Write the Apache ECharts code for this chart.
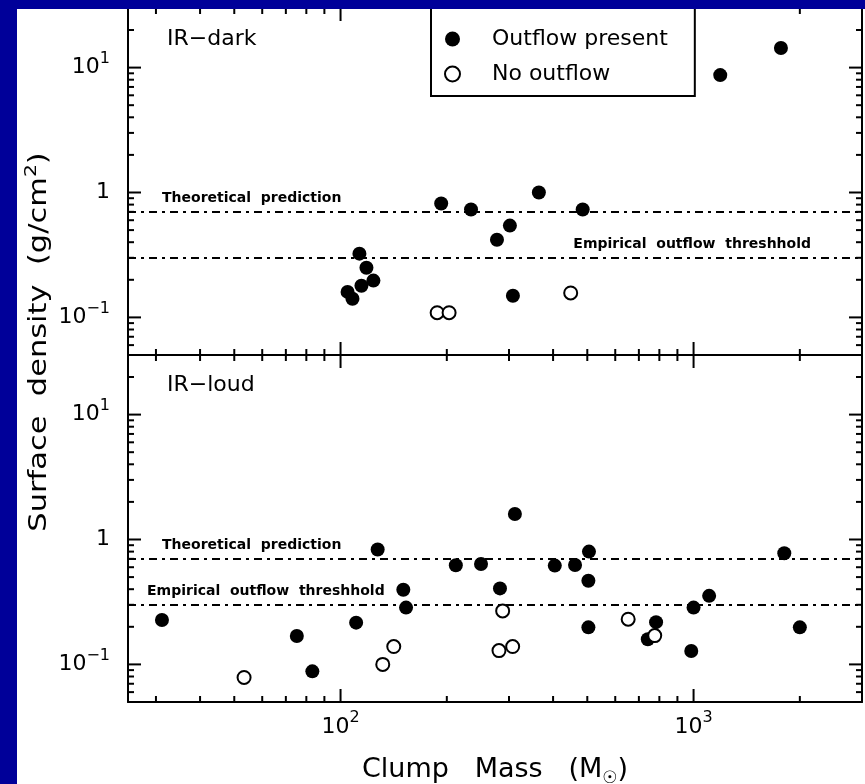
<!DOCTYPE html>
<html>
<head>
<meta charset="utf-8">
<script src="https://cdn.jsdelivr.net/npm/echarts@6/dist/echarts.min.js"></script>
<style>
  html, body { margin: 0; padding: 0; background: #000099; }
  #chart { position: absolute; left: 17px; top: 9px; width: 848px; height: 775px; background: #fff; }
</style>
</head>
<body>
<div id="chart"></div>
<script>
// IR-dark clumps
var darkOutX = [104.7, 108.1, 113.1, 118.4, 114.6, 123.9, 192.8, 234.2, 364.6, 485.2, 301.8, 277.4, 307.8, 1190, 1768];
var darkOutY = [0.160, 0.141, 0.324, 0.250, 0.179, 0.197, 0.816, 0.730, 1.00, 0.730, 0.543, 0.419, 0.149, 8.71, 14.35];
var darkNoX = [187.8, 203, 448.7];
var darkNoY = [0.109, 0.109, 0.157];
// IR-loud clumps
var loudOutX = [31.2, 75.2, 83.2, 110.7, 127.4, 150.6, 153.3, 212.1, 250, 311.8, 282.9, 404.5, 461.6, 505.5, 503.6, 503.6, 741.9, 783.1, 985.1, 1000, 1107, 1807, 2000];
var loudOutY = [0.227, 0.169, 0.088, 0.216, 0.831, 0.396, 0.285, 0.622, 0.637, 1.60, 0.406, 0.618, 0.625, 0.80, 0.468, 0.198, 0.159, 0.218, 0.128, 0.285, 0.354, 0.776, 0.198];
var loudNoX = [53.3, 131.7, 141.5, 287.9, 281.1, 307.3, 652.8, 776.2];
var loudNoY = [0.0786, 0.100, 0.139, 0.268, 0.129, 0.139, 0.230, 0.170];

// threshold lines
var theoryLevel = 0.7;
var empiricalLevel = 0.3;

// axes
var xMin = 25, xMax = 3000;
var yMin = 0.05, yMax = 30;
var xMajorTicks = [100, 1000];
var xMinorTicks = [30, 40, 50, 60, 70, 80, 90, 200, 300, 400, 500, 600, 700, 800, 900, 2000];
var yMajorTicks = [0.1, 1, 10];
var yMinorTicks = [0.06, 0.07, 0.08, 0.09, 0.2, 0.3, 0.4, 0.5, 0.6, 0.7, 0.8, 0.9, 2, 3, 4, 5, 6, 7, 8, 9, 20];
var xLabelValues = [100, 1000];
var xLabelTexts = ['{b|10}{s|2}', '{b|10}{s|3}'];
var yLabelValues = [0.1, 1, 10];
var yLabelTexts = ['{b|10}{s|\u22121}', '{b|1}', '{b|10}{s|1}'];

var FONT = 'DejaVu Sans';

function zip(xs, ys) {
    var out = [];
    for (var i = 0; i < xs.length; i++) out.push([xs[i], ys[i]]);
    return out;
}

function pickLabel(values, texts) {
    return function (v) {
        for (var i = 0; i < values.length; i++) {
            if (Math.abs(Math.log10(v) - Math.log10(values[i])) < 1e-6) return texts[i];
        }
        return '';
    };
}

var supRich = {
    b: { fontSize: 22, fontFamily: FONT, color: '#000' },
    s: { fontSize: 16, fontFamily: FONT, color: '#000', padding: [0, 0, 18, 0] }
};

var lineStyle = { color: '#000', width: 2 };

function xAxisFor(grid, pos, labels) {
    return {
        type: 'log', logBase: 10, gridIndex: grid, position: pos,
        min: xMin, max: xMax,
        axisLine: { show: true, onZero: false, lineStyle: lineStyle },
        axisTick: { show: false },
        splitLine: { show: false },
        axisLabel: labels ? {
            show: true, margin: 8, showMinLabel: false, showMaxLabel: false,
            fontSize: 22, fontFamily: FONT, color: '#000',
            formatter: pickLabel(xLabelValues, xLabelTexts), rich: supRich
        } : { show: false },
        name: labels ? 'Clump   Mass   (M{sub|\u2609})' : '',
        nameLocation: 'middle',
        nameGap: 50,
        nameTextStyle: {
            fontSize: 27, fontFamily: FONT, color: '#000',
            rich: { sub: { fontSize: 17, fontFamily: FONT, color: '#000', padding: [18, 0, 0, 0] } }
        }
    };
}

function yAxisFor(grid, pos, labels) {
    return {
        type: 'log', logBase: 10, gridIndex: grid, position: pos,
        min: yMin, max: yMax,
        axisLine: { show: true, onZero: false, lineStyle: lineStyle },
        axisTick: { show: false },
        splitLine: { show: false },
        axisLabel: labels ? {
            show: true, margin: 18, showMinLabel: false, showMaxLabel: false,
            fontSize: 22, fontFamily: FONT, color: '#000',
            formatter: pickLabel(yLabelValues, yLabelTexts), rich: supRich
        } : { show: false }
    };
}

// tick marks on all four sides, pointing inward
var tickData = [];
xMajorTicks.forEach(function (v) { tickData.push([v, 1, 0, 13]); });
xMinorTicks.forEach(function (v) { tickData.push([v, 1, 0, 6]); });
yMajorTicks.forEach(function (v) { tickData.push([100, v, 1, 13]); });
yMinorTicks.forEach(function (v) { tickData.push([100, v, 1, 6]); });

function renderTick(params, api) {
    var cs = params.coordSys;
    var len = api.value(3);
    var segs = [];
    if (api.value(2) === 0) {
        var px = api.coord([api.value(0), yMin])[0];
        segs.push([px, cs.y + cs.height, px, cs.y + cs.height - len]);
        segs.push([px, cs.y, px, cs.y + len]);
    } else {
        var py = api.coord([xMin, api.value(1)])[1];
        segs.push([cs.x, py, cs.x + len, py]);
        segs.push([cs.x + cs.width, py, cs.x + cs.width - len, py]);
    }
    return {
        type: 'group',
        children: segs.map(function (s) {
            return { type: 'line', shape: { x1: s[0], y1: s[1], x2: s[2], y2: s[3] }, style: { stroke: '#000', lineWidth: 2 } };
        })
    };
}

function tickSeries(grid) {
    return {
        type: 'custom', silent: true, xAxisIndex: grid * 2, yAxisIndex: grid * 2,
        renderItem: renderTick, data: tickData, z: 3
    };
}

var lineLabel = { color: '#000', fontSize: 14, fontWeight: 'bold', fontFamily: FONT };

function thresholds(empPos, empDist) {
    return {
        silent: true, symbol: 'none',
        lineStyle: { color: '#000', width: 2, type: [8, 5, 3, 5], opacity: 1 },
        data: [
            { yAxis: theoryLevel, label: Object.assign({ formatter: 'Theoretical  prediction', position: 'insideStartTop', distance: [34, 6] }, lineLabel) },
            { yAxis: empiricalLevel, label: Object.assign({ formatter: 'Empirical  outflow  threshhold', position: empPos, distance: empDist }, lineLabel) }
        ]
    };
}

var filledStyle = { color: '#000', opacity: 1 };
var openStyle = { color: '#fff', borderColor: '#000', borderWidth: 2, opacity: 1 };

var myChart = echarts.init(document.getElementById('chart'));
var option = {
    animation: false,
    textStyle: { fontFamily: FONT },
    grid: [
        { left: 111, right: 3, top: -1, height: 347, outerBoundsMode: 'none' },
        { left: 111, right: 3, top: 346, height: 347, outerBoundsMode: 'none' }
    ],
    xAxis: [
        xAxisFor(0, 'bottom', false), xAxisFor(0, 'top', false),
        xAxisFor(1, 'bottom', true), xAxisFor(1, 'top', false)
    ],
    yAxis: [
        yAxisFor(0, 'left', true), yAxisFor(0, 'right', false),
        yAxisFor(1, 'left', true), yAxisFor(1, 'right', false)
    ],
    legend: {
        data: ['Outflow present', 'No outflow'],
        orient: 'vertical',
        left: 414, top: -10,
        padding: [29, 27, 11, 13],
        itemWidth: 15, itemHeight: 15, itemGap: 13,
        borderColor: '#000', borderWidth: 2, backgroundColor: '#fff',
        textStyle: { fontSize: 22, fontFamily: FONT, color: '#000', padding: [0, 0, 0, 27] },
        selectedMode: false
    },
    graphic: [
        { type: 'text', x: 150, y: 30, style: { text: 'IR\u2212dark', font: '22px "DejaVu Sans"', fill: '#000', verticalAlign: 'middle' } },
        { type: 'text', x: 150, y: 376, style: { text: 'IR\u2212loud', font: '22px "DejaVu Sans"', fill: '#000', verticalAlign: 'middle' } },
        {
            type: 'text', x: 23, y: 333, rotation: Math.PI / 2, scaleX: 1.27,
            style: {
                text: 'Surface  density  (g/cm{sup|2})', font: '24px "DejaVu Sans"', fill: '#000',
                align: 'center', verticalAlign: 'middle',
                rich: { sup: { fontSize: 16, fontFamily: FONT, fill: '#000', padding: [0, 0, 16, 0] } }
            }
        }
    ],
    series: [
        {
            name: 'Outflow present', type: 'scatter', xAxisIndex: 0, yAxisIndex: 0,
            symbol: 'circle', symbolSize: 14, itemStyle: filledStyle,
            data: zip(darkOutX, darkOutY),
            markLine: thresholds('insideEndTop', [51, 6])
        },
        {
            name: 'No outflow', type: 'scatter', xAxisIndex: 0, yAxisIndex: 0,
            symbol: 'circle', symbolSize: 13, itemStyle: openStyle,
            data: zip(darkNoX, darkNoY)
        },
        {
            name: 'Outflow present', type: 'scatter', xAxisIndex: 2, yAxisIndex: 2,
            symbol: 'circle', symbolSize: 14, itemStyle: filledStyle,
            data: zip(loudOutX, loudOutY),
            markLine: thresholds('insideStartTop', [19, 6])
        },
        {
            name: 'No outflow', type: 'scatter', xAxisIndex: 2, yAxisIndex: 2,
            symbol: 'circle', symbolSize: 13, itemStyle: openStyle,
            data: zip(loudNoX, loudNoY)
        },
        tickSeries(0),
        tickSeries(1)
    ]
};
myChart.setOption(option);
</script>
</body>
</html>
